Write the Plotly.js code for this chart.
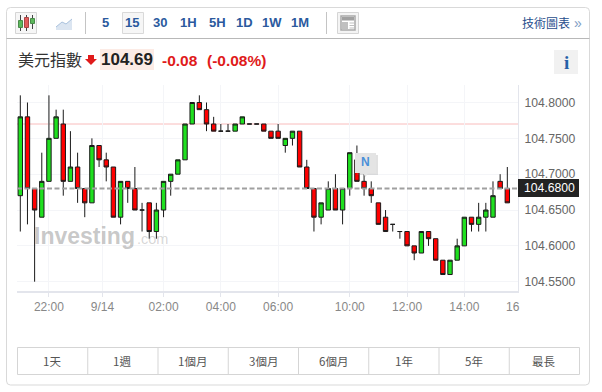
<!DOCTYPE html>
<html><head><meta charset="utf-8">
<script src="https://cdn.plot.ly/plotly-3.0.1.min.js"></script>
<style>html,body{margin:0;padding:0;background:#fff}#c{width:602px;height:392px}</style>
</head><body><div id="c"></div>
<script>
const open_ = [104.67,104.78,104.68,104.64,104.69,104.75,104.77,104.69,104.71,104.68,104.66,104.74,104.72,104.71,104.64,104.69,104.68,104.65,104.66,104.62,104.65,104.69,104.70,104.72,104.77,104.80,104.79,104.77,104.76,104.76,104.76,104.77,104.77,104.77,104.77,104.76,104.76,104.74,104.75,104.76,104.71,104.68,104.64,104.65,104.68,104.65,104.68,104.72,104.69,104.68,104.66,104.64,104.63,104.62,104.62,104.60,104.59,104.62,104.61,104.58,104.56,104.58,104.60,104.64,104.63,104.64,104.64,104.69,104.68];
const close_ = [104.78,104.68,104.65,104.69,104.75,104.78,104.69,104.71,104.68,104.66,104.74,104.72,104.71,104.64,104.69,104.68,104.65,104.65,104.62,104.65,104.69,104.70,104.72,104.77,104.80,104.79,104.77,104.76,104.76,104.76,104.77,104.78,104.77,104.77,104.76,104.75,104.75,104.75,104.76,104.71,104.68,104.64,104.66,104.68,104.65,104.68,104.73,104.69,104.68,104.67,104.63,104.62,104.63,104.62,104.60,104.59,104.62,104.61,104.58,104.56,104.58,104.60,104.64,104.63,104.64,104.65,104.67,104.68,104.66];
const high_ = [104.81,104.80,104.68,104.73,104.81,104.79,104.79,104.76,104.73,104.68,104.75,104.74,104.73,104.71,104.69,104.69,104.71,104.66,104.66,104.66,104.69,104.70,104.72,104.77,104.80,104.81,104.80,104.78,104.77,104.77,104.77,104.78,104.77,104.77,104.77,104.76,104.77,104.75,104.76,104.76,104.72,104.68,104.66,104.69,104.70,104.68,104.73,104.74,104.70,104.69,104.66,104.65,104.63,104.62,104.62,104.60,104.62,104.62,104.61,104.58,104.58,104.61,104.64,104.64,104.66,104.66,104.69,104.70,104.71];
const low_ = [104.62,104.63,104.55,104.64,104.69,104.75,104.67,104.69,104.66,104.64,104.66,104.71,104.69,104.64,104.63,104.66,104.65,104.62,104.61,104.61,104.64,104.67,104.70,104.72,104.77,104.79,104.76,104.76,104.76,104.76,104.76,104.77,104.77,104.77,104.76,104.75,104.75,104.73,104.74,104.71,104.68,104.62,104.63,104.65,104.65,104.63,104.67,104.69,104.67,104.66,104.63,104.62,104.62,104.61,104.60,104.58,104.59,104.60,104.58,104.56,104.56,104.58,104.60,104.62,104.62,104.62,104.64,104.68,104.66];
const idx = open_.map((_, i) => i);
const tickPos = [4,11.48,20,28,36,46,54,62];
const tickLabels = ['22:00','9/14','02:00','04:00','06:00','10:00','12:00','14:00'];
const priceTicks = [104.55,104.60,104.65,104.70,104.75,104.80];
const intervals = ['5','15','30','1H','5H','1D','1W','1M'];
const intervalX = [105,132,160,188,217,244,272,300];
const ranges = ['1天','1週','1個月','3個月','6個月','1年','5年','最長'];
const rangeX = [52,122,192,263,333,404,474,544];
const lastPrice = 104.68, refLine = 104.77;

const W=602,H=392,L=17,R=518,T=85,B=291;
const px=x=>(x-L)/(R-L), py=y=>(B-y)/(B-T);
const SANS='"Liberation Sans",Arial,sans-serif', CJK='"Noto Sans CJK TC","Liberation Sans",sans-serif';
const rect=(x0,y0,x1,y1,fill,line,lw)=>({type:'rect',xref:'paper',yref:'paper',x0:px(x0),x1:px(x1),y0:py(y0),y1:py(y1),fillcolor:fill||'rgba(0,0,0,0)',line:{color:line||'rgba(0,0,0,0)',width:line?(lw||1):0}});
const seg=(x0,y0,x1,y1,c,w)=>({type:'line',xref:'paper',yref:'paper',x0:px(x0),x1:px(x1),y0:py(y0),y1:py(y1),line:{color:c,width:w||1}});
const poly=(pts,fill)=>({type:'path',xref:'paper',yref:'paper',path:'M'+pts.map(p=>px(p[0]).toFixed(5)+','+py(p[1]).toFixed(5)).join('L')+'Z',fillcolor:fill,line:{width:0}});
const txt=(x,y,s,size,color)=>({xref:'paper',yref:'paper',x:px(x),y:py(y),text:s,showarrow:false,xanchor:'center',yanchor:'middle',font:{size,color,family:SANS},borderpad:0});
const ftxt=(x,y,s,size,color,family,anchor)=>{const t=txt(x,y,s,size,color);t.font.family=family;if(anchor)t.xanchor=anchor;return t;};

const cardL=6.5,cardT=7.5,cardR=589.5,cardB=385,r=4;
const card={type:'path',xref:'paper',yref:'paper',line:{color:'#d9d9d9',width:1},fillcolor:'rgba(0,0,0,0)',
 path:`M${px(cardL+r)},${py(cardT)}L${px(cardR-r)},${py(cardT)}Q${px(cardR)},${py(cardT)} ${px(cardR)},${py(cardT+r)}L${px(cardR)},${py(cardB-r)}Q${px(cardR)},${py(cardB)} ${px(cardR-r)},${py(cardB)}L${px(cardL+r)},${py(cardB)}Q${px(cardL)},${py(cardB)} ${px(cardL)},${py(cardB-r)}L${px(cardL)},${py(cardT+r)}Q${px(cardL)},${py(cardT)} ${px(cardL+r)},${py(cardT)}Z`};

const shapes=[card,
 seg(cardL,38.5,cardR,38.5,'#b8b8b8',1),
 rect(15.5,12.5,36.5,33.5,'#f6f6f6','#d5d5d5'),
 seg(20.5,15,20.5,31,'#444',1),seg(26.5,15,26.5,31,'#444',1),seg(32.5,15,32.5,29,'#444',1),
 rect(18.5,20.5,22.5,27.5,'#5cb85c','#4a8a4a'),rect(24.5,17.5,28.5,27.5,'#e25b5b','#a84444'),rect(30.5,18.5,34.5,23.5,'#5cb85c','#4a8a4a'),
 poly([[56,27],[62,22],[66,24],[72,19],[72,30],[56,30]],'#dbe5f1'),
 seg(56,27,62,22,'#a9c1dd',1),seg(62,22,66,24,'#a9c1dd',1),seg(66,24,72,19,'#a9c1dd',1),
 seg(85.5,12,85.5,34,'#c4c4c4',1),
 rect(122.5,12.5,143.5,33.5,'#f6f6f6','#d9d9d9'),
 seg(326.5,12,326.5,34,'#c4c4c4',1),
 rect(337.5,12.5,358.5,33.5,'#f4f4f4','#d5d5d5'),
 rect(341,16,355,30,'#ffffff','#a8a8a8',1.5),
 rect(342,17,354,20.5,'#a0a0a0'),rect(342,22,348,29,'#c0c0c0'),
 seg(349.5,23,354,23,'#c0c0c0',1),seg(349.5,25.5,354,25.5,'#c0c0c0',1),seg(349.5,28,354,28,'#c0c0c0',1),
 poly([[88,55],[94,55],[94,59],[97,59],[91,65],[85,59],[88,59]],'#e01b1b'),
 rect(100,49,154,70,'#fcebe5'),
 rect(554,50,578,74,'#f1f1f1'),
 {type:'line',xref:'paper',yref:'y',x0:0,x1:1,y0:refLine,y1:refLine,layer:'below',line:{color:'#f9bcbc',width:1}},
 {type:'line',xref:'paper',yref:'y',x0:0,x1:1,y0:lastPrice,y1:lastPrice,line:{color:'#a0a0a0',width:2,dash:'5px,2.5px'}},
 rect(357,155,378,175,'rgba(120,120,120,0.22)'),
 rect(355,153,376,173,'#e4e4e4'),
 poly([[363,173],[368,173],[365.5,177]],'#e4e4e4'),
 rect(518,179,579,197,'#222222'),
 rect(17.5,347.5,579.5,374.5,'#ffffff','#d5d5d5')
];
for(let i=1;i<8;i++){const x=17.5+i*(562/8);shapes.push(seg(x,347.5,x,374.5,'#d5d5d5',1));}

const annotations=[
 ...intervals.map((s,i)=>{const t=txt(intervalX[i],23,s,13,'#2b5a9e');t.font.weight=700;return t;}),
 ftxt(521,23,'技術圖表',12,'#1f4d8c',CJK,'left'),
 ftxt(578,22.5,'»',14,'#7d9cc4',SANS),
 ftxt(17,59.5,'美元指數',16,'#333333',CJK,'left'),
 txt(127,59.5,'104.69',17,'#222222'),
 ftxt(160.5,60,'-0.08',15.5,'#e01b1b',SANS,'left'),
 ftxt(205.5,60,'(-0.08%)',15.5,'#e01b1b',SANS,'left'),
 ftxt(566,62,'i',19,'#2460a7','"Liberation Serif",serif'),
 ftxt(33,236,'Investing',23,'rgba(100,100,100,0.36)',SANS,'left'),
 ftxt(136,239,'.com',14.5,'rgba(130,130,130,0.32)',SANS,'left'),
 ftxt(365,162,'N',12,'#4a90d9',SANS),
 ftxt(549.5,188,'104.6800',12.2,'#ffffff',SANS),
 ftxt(513,307,'16',12,'#888888',SANS),
 ...ranges.map((s,i)=>ftxt(rangeX[i],361,s,11.5,'#555555',CJK))
];
annotations.forEach(a=>{if(['104.69','-0.08','(-0.08%)','Investing','N','i'].includes(a.text))a.font.weight=700;});

Plotly.newPlot('c',[{
 type:'candlestick',x:idx,open:open_,high:high_,low:low_,close:close_,
 whiskerwidth:0,hoverinfo:'skip',
 increasing:{line:{color:'#1a1a1a',width:1},fillcolor:'#1fe01f'},
 decreasing:{line:{color:'#1a1a1a',width:1},fillcolor:'#ff0000'}
}],{
 width:W,height:H,margin:{l:L,r:W-R,t:T,b:H-B,pad:0},
 paper_bgcolor:'#fff',plot_bgcolor:'#fff',showlegend:false,
 boxgap:0.12,
 xaxis:{type:'linear',range:[(L-20.3)/7.162,(R-20.3)/7.162],rangeslider:{visible:false},
  tickmode:'array',tickvals:tickPos,ticktext:tickLabels,
  showgrid:true,gridcolor:'#f4f5f8',gridwidth:1,zeroline:false,
  showline:true,linecolor:'#e3e5ec',linewidth:1.5,ticks:'outside',ticklen:4,tickcolor:'#e3e5ec',
  tickfont:{family:SANS,size:12,color:'#888888'}},
 yaxis:{side:'right',range:[104.8-(B-102.5)/716.8,104.8-(T-102.5)/716.8],
  tickmode:'array',tickvals:priceTicks,ticktext:priceTicks.map(v=>v.toFixed(4)),
  showgrid:true,gridcolor:'#f4f5f8',gridwidth:1,zeroline:false,
  showline:true,linecolor:'#e3e5ec',linewidth:1,ticks:'outside',ticklen:3,tickcolor:'rgba(0,0,0,0)',
  tickfont:{family:SANS,size:12.2,color:'#666666'}},
 shapes,annotations,
 hovermode:false
},{staticPlot:true,displayModeBar:false});
</script></body></html>
